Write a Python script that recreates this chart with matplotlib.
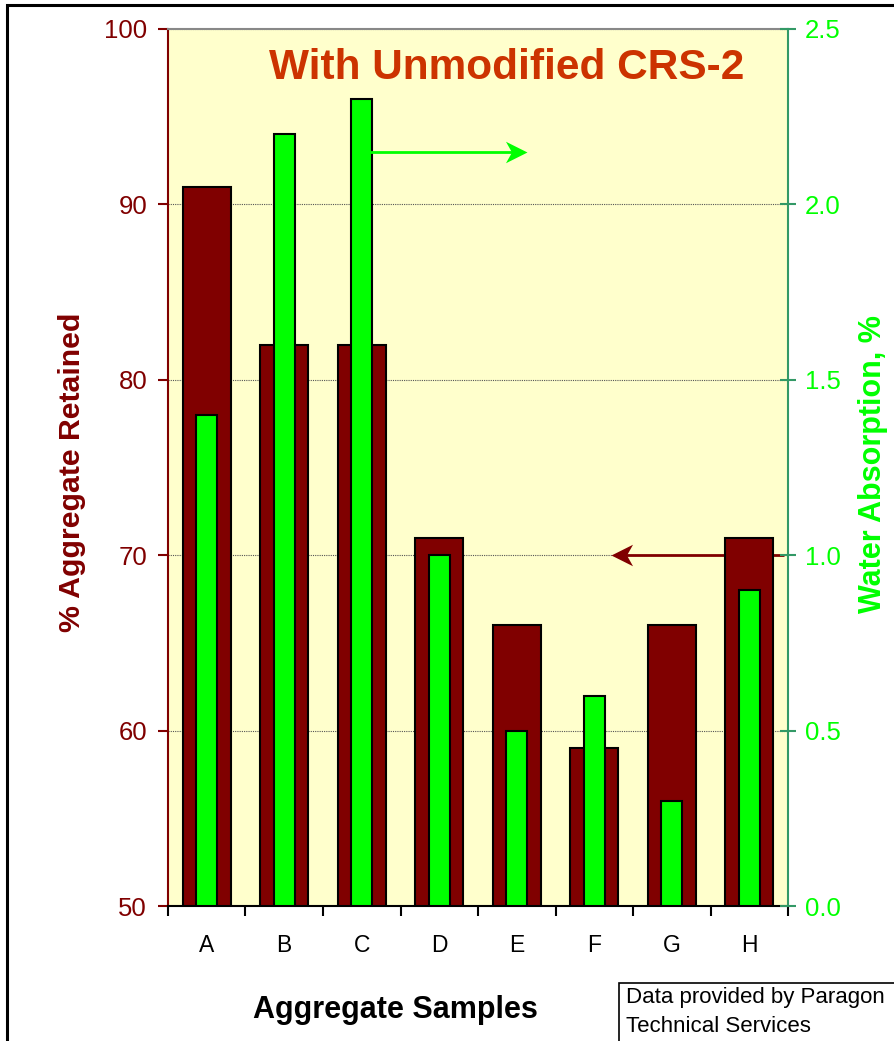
import matplotlib
matplotlib.use("Agg")
import matplotlib.pyplot as plt
from matplotlib.patches import Rectangle
from matplotlib.path import Path
import numpy as np

plt.rcParams['font.family'] = ['Liberation Sans', 'DejaVu Sans']

categories = ['A', 'B', 'C', 'D', 'E', 'F', 'G', 'H']
retained = [91, 82, 82, 71, 66, 59, 66, 71]
absorption = [1.4, 2.2, 2.3, 1.0, 0.5, 0.6, 0.3, 0.9]
left_ticks = [50, 60, 70, 80, 90, 100]
right_ticks = [0.0, 0.5, 1.0, 1.5, 2.0, 2.5]

MAROON = '#800000'
GREEN = '#00FF00'
AXGREEN = '#339966'

fig = plt.figure(figsize=(8.95, 10.41), dpi=100)
fig.patch.set_facecolor('white')
fig.patches.append(Rectangle((7/895, -0.01), 1.0, 1 - 5/1041 + 0.01,
                             transform=fig.transFigure, fill=False,
                             edgecolor='black', linewidth=2.2))

ax = fig.add_axes([168/895, 1 - 906/1041, 620/895, 877/1041])
ax.set_facecolor('#FFFFCC')
x = np.arange(len(categories))

ax.bar(x, [r - 50 for r in retained], bottom=50, width=0.62, color=MAROON,
       edgecolor='black', linewidth=1.5, zorder=3)
ax.set_ylim(50, 100)
ax.set_xlim(-0.5, len(categories) - 0.5)
ax.set_yticks(left_ticks)
ax.set_yticklabels([str(t) for t in left_ticks])
ax.tick_params(axis='y', colors=MAROON, labelsize=18.5, length=7, width=1.5, pad=8)
ax.yaxis.grid(True, linestyle=(0, (1, 1)), color='#555555', linewidth=0.8, zorder=1)
ax.set_axisbelow(True)

ax.set_xticks(x)
ax.set_xticklabels(categories)
ax.set_xticks(np.arange(-0.5, len(categories) + 0.5, 1), minor=True)
ax.tick_params(axis='x', which='major', length=0, labelsize=16.5, pad=20, colors='black')
ax.tick_params(axis='x', which='minor', length=7, width=1.5, color='black')

ax.spines['left'].set_color(MAROON)
ax.spines['left'].set_linewidth(1.5)
ax.spines['bottom'].set_color('black')
ax.spines['bottom'].set_linewidth(1.5)
ax.spines['top'].set_color('#888888')
ax.spines['top'].set_linewidth(1.5)
ax.spines['right'].set_visible(False)

fig.text(72/895, 1 - 472/1041, '% Aggregate Retained', color=MAROON, fontsize=21.8,
         fontweight='bold', rotation=90, ha='center', va='center')
fig.text(395/895, 1 - 1010/1041, 'Aggregate Samples', color='black', fontsize=22,
         fontweight='bold', ha='center', va='center')

ax2 = ax.twinx()
ax2.bar(x, absorption, width=0.27, color=GREEN, edgecolor='black',
        linewidth=1.5, zorder=4)
ax2.set_ylim(0, 2.5)
ax2.set_yticks(right_ticks)
ax2.set_yticklabels([f'{t:.1f}' for t in right_ticks])
ax2.tick_params(axis='y', colors=AXGREEN, labelcolor=GREEN, labelsize=18.5,
                length=12, width=1.5, direction='inout', pad=6)
for s in ['left', 'top', 'bottom']:
    ax2.spines[s].set_visible(False)
ax2.spines['right'].set_color(AXGREEN)
ax2.spines['right'].set_linewidth(1.5)
fig.text(873/895, 1 - 464/1041, 'Water Absorption, %', color=GREEN, fontsize=22,
         fontweight='bold', rotation=90, ha='center', va='center')

# barbed arrow heads (tip at origin)
head_r = Path([(0, 0), (-1, 0.5), (-0.72, 0), (-1, -0.5), (0, 0)],
              [Path.MOVETO, Path.LINETO, Path.LINETO, Path.LINETO, Path.CLOSEPOLY])
head_l = Path([(0, 0), (1, 0.5), (0.72, 0), (1, -0.5), (0, 0)],
              [Path.MOVETO, Path.LINETO, Path.LINETO, Path.LINETO, Path.CLOSEPOLY])

ax2.plot([2.1, 4.0], [2.15, 2.15], color=GREEN, lw=2, zorder=6, solid_capstyle='butt')
ax2.plot([4.13], [2.15], marker=head_r, markersize=31, color=GREEN,
         markeredgewidth=0, linestyle='none', zorder=6)

ax.plot([5.35, 7.45], [70, 70], color=MAROON, lw=2, zorder=2.5, solid_capstyle='butt')
ax.plot([5.22], [70], marker=head_l, markersize=31, color=MAROON,
        markeredgewidth=0, linestyle='none', zorder=2.5)

ax.text(0.546, 0.955, 'With Unmodified CRS-2', transform=ax.transAxes,
        ha='center', va='center', fontsize=30.5, fontweight='bold', color='#CC3300',
        zorder=7)

fig.patches.append(Rectangle((619/895, -0.01), 0.5, 0.01 + (1041 - 983)/1041,
                             transform=fig.transFigure, facecolor='white',
                             edgecolor='black', linewidth=1.2))
fig.text(626/895, 1 - 997/1041, 'Data provided by Paragon', ha='left', va='center',
         fontsize=16, color='black')
fig.text(626/895, 1 - 1026/1041, 'Technical Services', ha='left', va='center',
         fontsize=16, color='black')

fig.savefig('out.png', dpi=100)
